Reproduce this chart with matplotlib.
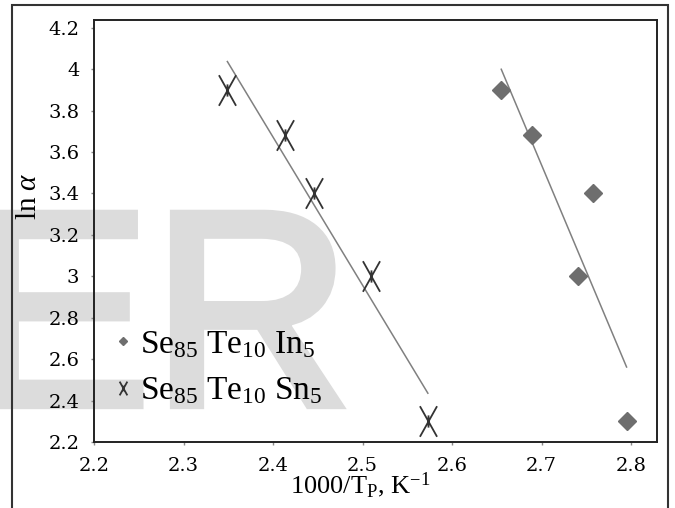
import numpy as np
import matplotlib
matplotlib.use('Agg')
from matplotlib import pyplot as plt
from matplotlib.patches import Rectangle
from matplotlib.path import Path
import matplotlib.patheffects as pe

plt.rcParams['font.family'] = 'DejaVu Serif'
plt.rcParams['mathtext.fontset'] = 'custom'
plt.rcParams['mathtext.rm'] = 'Liberation Serif'
plt.rcParams['mathtext.it'] = 'Liberation Serif:italic'

# Se85 Te10 In5
x_in = [2.655, 2.689, 2.757, 2.741, 2.795]
y_in = [3.9, 3.68, 3.4, 3.0, 2.3]

# Se85 Te10 Sn5
x_sn = [2.349, 2.413, 2.446, 2.510, 2.573]
y_sn = [3.9, 3.68, 3.4, 3.0, 2.3]

xticks = [2.2, 2.3, 2.4, 2.5, 2.6, 2.7, 2.8]
yticks = [2.2, 2.4, 2.6, 2.8, 3.0, 3.2, 3.4, 3.6, 3.8, 4.0, 4.2]

# narrow x with a short vertical bar (excel-ish star marker)
star = Path([(-0.28, -0.5), (0.28, 0.5), (-0.28, 0.5), (0.28, -0.5), (0, -0.2), (0, 0.2)],
            [Path.MOVETO, Path.LINETO, Path.MOVETO, Path.LINETO, Path.MOVETO, Path.LINETO])

fig = plt.figure(figsize=(6.75, 5.08), dpi=100)

# watermark behind everything
wm = fig.text(-34 / 675, 1 - 405 / 508, 'ER', fontsize=200, color='#dcdcdc',
              family='Liberation Sans', ha='left', va='baseline', zorder=-5)
wm.set_path_effects([pe.withStroke(linewidth=6, foreground='#dcdcdc', joinstyle='miter')])

# outer frame
fig.add_artist(Rectangle((12 / 675, -0.1), (668 - 12) / 675, 1 - 5 / 508 + 0.1,
                         transform=fig.transFigure, fill=False, lw=1.5,
                         ec='#333333', zorder=-4))

ax = fig.add_axes([94 / 675, 1 - 442 / 508, (657 - 94) / 675, (442 - 20) / 508])
ax.set_zorder(1)
ax.patch.set_alpha(0)

ax.plot(x_in, y_in, linestyle='none', marker='D', ms=9, color='#6e6e6e',
        label=r'Se$_{85}$ Te$_{10}$ In$_{5}$', zorder=3)
ax.plot(x_sn, y_sn, linestyle='none', marker=star, ms=22, mew=1.3,
        color='#333333', label=r'Se$_{85}$ Te$_{10}$ Sn$_{5}$', zorder=3)

# linear trendlines
for xs, ys in [(x_in, y_in), (x_sn, y_sn)]:
    k, b = np.polyfit(xs, ys, 1)
    xx = np.array([min(xs), max(xs)])
    ax.plot(xx, k * xx + b, color='#808080', lw=1.1, zorder=2)

ax.set_xlim(2.2, 2.829)
ax.set_ylim(2.2, 4.237)
ax.set_xticks(xticks)
ax.set_yticks(yticks)
ax.set_xticklabels(['%g' % v for v in xticks])
ax.set_yticklabels(['%g' % v for v in yticks])
ax.tick_params(direction='out', length=2.5, width=1, color='#888888',
               labelsize=14, pad=8)
for s in ax.spines.values():
    s.set_linewidth(1.4)
    s.set_color('#222222')

ax.set_xlabel(r'1000/T$_\mathrm{P}$, K$^\mathrm{-1}$', fontsize=19, va='center',
              family='Liberation Serif')
ax.xaxis.set_label_coords(0.472, -0.102)
ax.set_ylabel(r'ln $\alpha$', fontsize=21, va='center', family='Liberation Serif')
ax.yaxis.set_label_coords(-0.115, 0.583)

ax.legend(loc='upper left', bbox_to_anchor=(0.037, 0.268), frameon=False,
          borderpad=0, borderaxespad=0, prop={'family': 'Liberation Serif', 'size': 24},
          handlelength=0.5, handletextpad=0.27, markerscale=0.45,
          labelspacing=0.47)

fig.savefig('out.png', dpi=100)
